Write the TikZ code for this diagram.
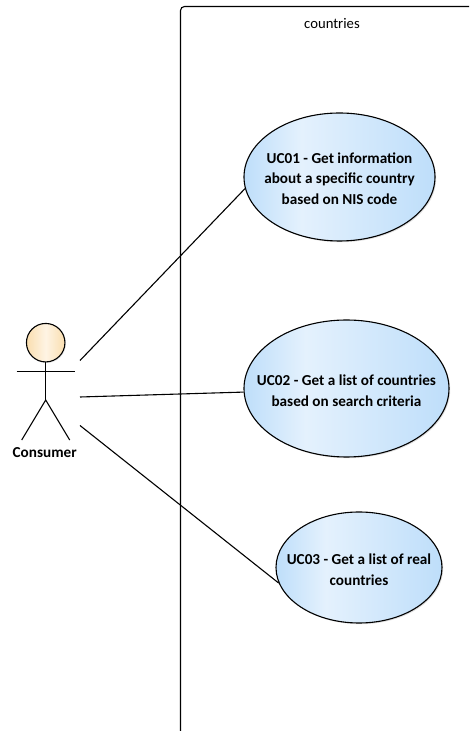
\documentclass[tikz,border=0pt]{standalone}
\usepackage{fontspec}
\setmainfont{Carlito}
\usetikzlibrary{positioning}
\usetikzlibrary{shapes.geometric}
\usetikzlibrary{shadows}
\definecolor{ucblue}{RGB}{190,222,250}
\definecolor{uclight}{RGB}{228,241,253}
\definecolor{headtan}{RGB}{250,222,175}
\definecolor{headlight}{RGB}{254,244,228}
\pgfdeclarehorizontalshading{ucshade}{100bp}{color(0bp)=(ucblue); color(25bp)=(ucblue); color(40bp)=(uclight); color(75bp)=(ucblue); color(100bp)=(ucblue)}
\pgfdeclarehorizontalshading{headshade}{100bp}{color(0bp)=(headtan); color(25bp)=(headtan); color(50bp)=(headlight); color(75bp)=(headtan); color(100bp)=(headtan)}
\tikzset{usecase/.style = {draw, ellipse, line width = 1.1, inner xsep = -25, inner ysep = 0, shading = ucshade,
                           drop shadow = {shadow xshift = 1.2, shadow yshift = -1.2, opacity = 0.25},
                           align = center, font = \fontsize{15.2}{20.5}\selectfont\bfseries}}
\tikzset{limb/.style = {line width = 1.1}}
\begin{document}
\begin{tikzpicture}[x=1pt, y=1pt]
    \useasboundingbox (0, 0) rectangle (469, 731);

    \draw [line width = 1.1, rounded corners = 4] (180.5, 0) -- (180.5, 724.5) -- (469, 724.5);
    \node (title) at (332, 707) {\fontsize{14.67}{17}\selectfont countries};

    \node [usecase, minimum width = 191, minimum height = 128] (ucone) at (339.5, 554) {\rule{0pt}{14pt}UC01 - Get information\\about a specific country\\based on NIS code};
    \node [usecase, minimum width = 205, minimum height = 137] (uctwo) at (346.5, 342.5) {\rule{0pt}{15pt}UC02 - Get a list of countries\\based on search criteria};
    \node [usecase, minimum width = 166, minimum height = 111] (ucthree) at (359, 163.5) {\rule{0pt}{15pt}UC03 - Get a list of real\\countries};

    \node [draw, circle, line width = 1.1, minimum size = 38.5, inner sep = 0, shading = headshade,
           drop shadow = {shadow xshift = 1, shadow yshift = -1, opacity = 0.2}] (head) at (45.7, 388.3) {};
    \coordinate (neck) at (head.south);
    \coordinate (hip) at (45.7, 331);
    \coordinate (armleft) at (16.7, 359.3);
    \coordinate (armright) at (75, 359.3);
    \coordinate (footleft) at (21.7, 291);
    \coordinate (footright) at (69.7, 291);
    \draw [limb] (neck) -- (hip);
    \draw [limb] (armleft) -- (armright);
    \draw [limb] (footleft) -- (hip) -- (footright);
    \node [font = \fontsize{15.2}{17}\selectfont\bfseries] (actor) at (44.7, 278.3) {Consumer};

    \coordinate (linkone) at (80, 370.5);
    \coordinate (linktwo) at (80, 334);
    \coordinate (linkthree) at (80, 305.5);
    \draw [limb] (linkone) -- (ucone.187);
    \draw [limb] (linktwo) -- (uctwo.182);
    \draw [limb] (linkthree) -- (ucthree.191);
\end{tikzpicture}
\end{document}
